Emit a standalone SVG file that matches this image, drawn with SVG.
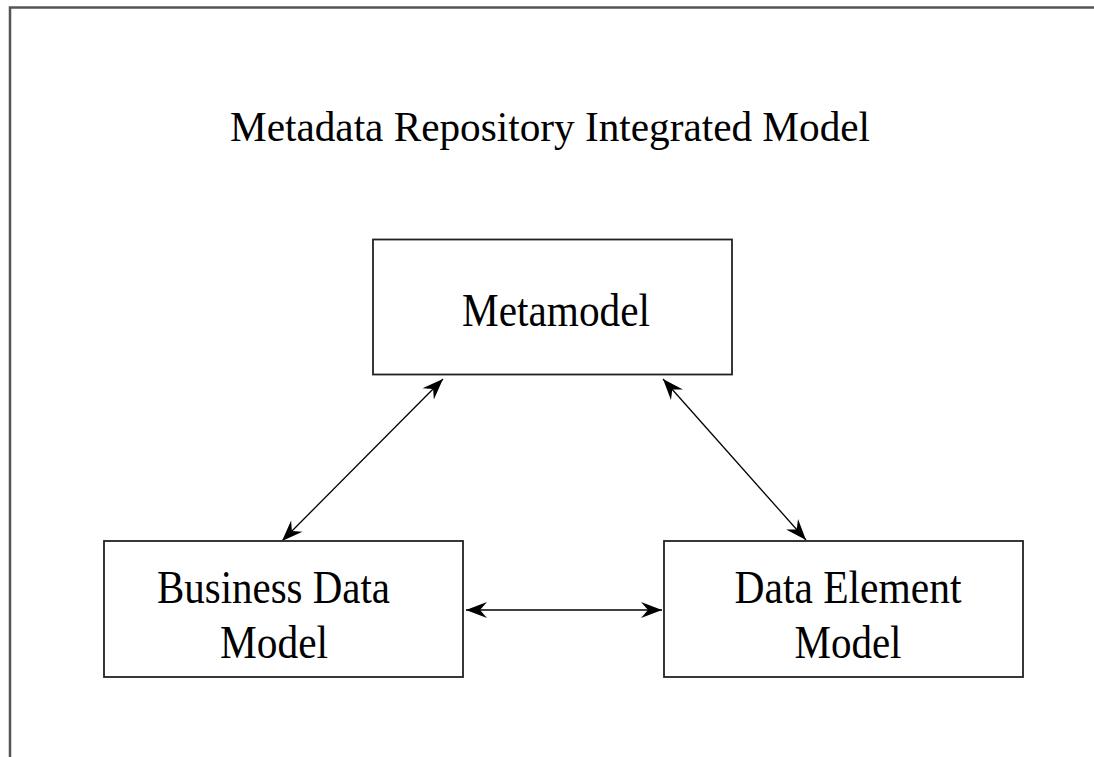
<svg xmlns="http://www.w3.org/2000/svg" width="1094" height="757" viewBox="0 0 1094 757">
<style>
.frame{stroke:#555;stroke-width:2.5;fill:none}
.box{fill:#fff;stroke:#222;stroke-width:1.8}
.t{font-family:"Liberation Serif","Times New Roman",serif;fill:#000;text-anchor:middle}
.lbl{font-size:47px}
.title{font-size:42px}
.conn{stroke:#000;stroke-width:1.3;fill:none;marker-start:url(#ah);marker-end:url(#ah)}
</style>
<defs>
<marker id="ah" viewBox="-24 -10 26 20" refX="0" refY="0" markerWidth="26" markerHeight="20" markerUnits="userSpaceOnUse" orient="auto-start-reverse">
<path d="M0,0 L-21,-8 L-14,0 L-21,8 Z" fill="#000"/>
</marker>
</defs>
<rect width="1094" height="757" fill="#fff"/>
<path class="frame" d="M10,757 L10,7.5 L1094,7.5"/>
<text class="t title" x="550" y="141" textLength="640" lengthAdjust="spacingAndGlyphs">Metadata Repository Integrated Model</text>
<g id="connectors">
<line class="conn" x1="443" y1="379" x2="282" y2="541"/>
<line class="conn" x1="663" y1="379" x2="806" y2="540"/>
<line class="conn" x1="466" y1="610" x2="662" y2="610"/>
</g>
<g id="metamodel">
<rect class="box" x="373" y="239.5" width="359" height="135"/>
<text class="t lbl" x="556" y="326" textLength="188" lengthAdjust="spacingAndGlyphs">Metamodel</text>
</g>
<g id="business">
<rect class="box" x="104" y="541" width="359" height="136"/>
<text class="t lbl" x="273.5" y="603" textLength="233" lengthAdjust="spacingAndGlyphs">Business Data</text>
<text class="t lbl" x="274" y="658" textLength="108" lengthAdjust="spacingAndGlyphs">Model</text>
</g>
<g id="dataelement">
<rect class="box" x="664" y="541" width="359" height="136"/>
<text class="t lbl" x="848" y="603" textLength="227" lengthAdjust="spacingAndGlyphs">Data Element</text>
<text class="t lbl" x="848" y="658" textLength="107" lengthAdjust="spacingAndGlyphs">Model</text>
</g>
</svg>
